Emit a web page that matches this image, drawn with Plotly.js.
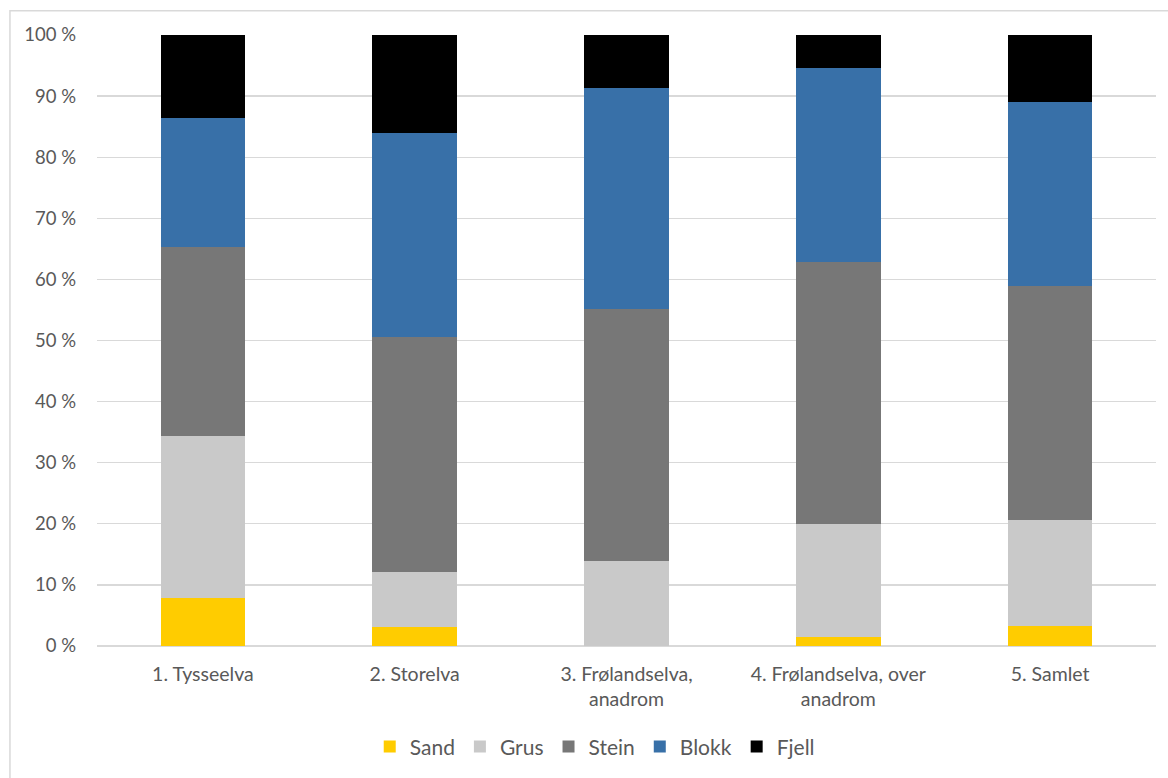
<!DOCTYPE html>
<html>
<head>
<meta charset="utf-8">
<script src="https://cdn.plot.ly/plotly-3.0.1.min.js"></script>
<style>
  html, body { margin: 0; padding: 0; background: #fff; }
  #chart { width: 1168px; height: 778px; }
</style>
</head>
<body>
<div id="chart"></div>
<script>
// Substrate composition per river section (share of area, %)
const categories = ['1. Tysseelva', '2. Storelva', '3. Frølandselva,<br>anadrom', '4. Frølandselva, over<br>anadrom', '5. Samlet'];
const sand  = [7.9, 3.1, 0.0, 1.5, 3.3];
const grus  = [26.5, 9.0, 13.9, 18.5, 17.4];
const stein = [30.9, 38.4, 41.2, 42.9, 38.2];
const blokk = [21.1, 33.4, 36.3, 31.7, 30.1];
const fjell = [13.6, 16.1, 8.6, 5.4, 11.0];

const yTickValues = [0, 10, 20, 30, 40, 50, 60, 70, 80, 90, 100];
const yTickLabels = ['0 %', '10 %', '20 %', '30 %', '40 %', '50 %', '60 %', '70 %', '80 %', '90 %', '100 %'];

const seriesNames = ['Sand', 'Grus', 'Stein', 'Blokk', 'Fjell'];
const seriesValues = [sand, grus, stein, blokk, fjell];
const seriesColors = ['#ffcc00', '#c9c9c9', '#777777', '#3870a8', '#000000'];

const traces = seriesNames.map((name, i) => ({
  type: 'bar',
  name: name,
  x: categories,
  y: seriesValues[i],
  marker: { color: seriesColors[i], line: { width: 0 } },
  hoverinfo: 'x+y+name'
}));

const font = 'Lato, "Open Sans", sans-serif';

const layout = {
  width: 1168,
  height: 778,
  barmode: 'stack',
  bargap: 0.6,
  paper_bgcolor: '#ffffff',
  plot_bgcolor: '#ffffff',
  margin: { l: 97, r: 12, t: 34.5, b: 131.5, autoexpand: false },
  font: { family: font, color: '#595959' },
  xaxis: {
    type: 'category',
    showgrid: false,
    showline: false,
    zeroline: false,
    ticks: '',
    ticklabelstandoff: 14,
    tickfont: { size: 19.5, color: '#595959', family: font },
    automargin: false
  },
  yaxis: {
    range: [0, 100],
    tickmode: 'array',
    tickvals: yTickValues,
    ticktext: yTickLabels,
    showgrid: true,
    gridcolor: '#d9d9d9',
    gridwidth: 1.3,
    zeroline: true,
    zerolinecolor: '#d9d9d9',
    zerolinewidth: 1.3,
    showline: false,
    ticks: '',
    ticklabelstandoff: 20,
    tickfont: { size: 18.5, color: '#595959', family: font },
    automargin: false
  },
  legend: {
    orientation: 'h',
    traceorder: 'normal',
    xref: 'paper',
    x: 0.47,
    xanchor: 'center',
    yref: 'container',
    y: 0.04,
    yanchor: 'middle',
    font: { size: 21, color: '#595959', family: font },
    itemwidth: 30,
    bgcolor: 'rgba(0,0,0,0)'
  },
  shapes: [{
    type: 'rect',
    xref: 'paper', yref: 'paper',
    x0: -0.0822, x1: 1.2,
    y0: -0.3, y1: 1.0398,
    line: { color: '#d9d9d9', width: 1.5 },
    fillcolor: 'rgba(0,0,0,0)',
    layer: 'below'
  }],
  showlegend: true
};

Plotly.newPlot('chart', traces, layout, { displayModeBar: false, staticPlot: true });
</script>
</body>
</html>
